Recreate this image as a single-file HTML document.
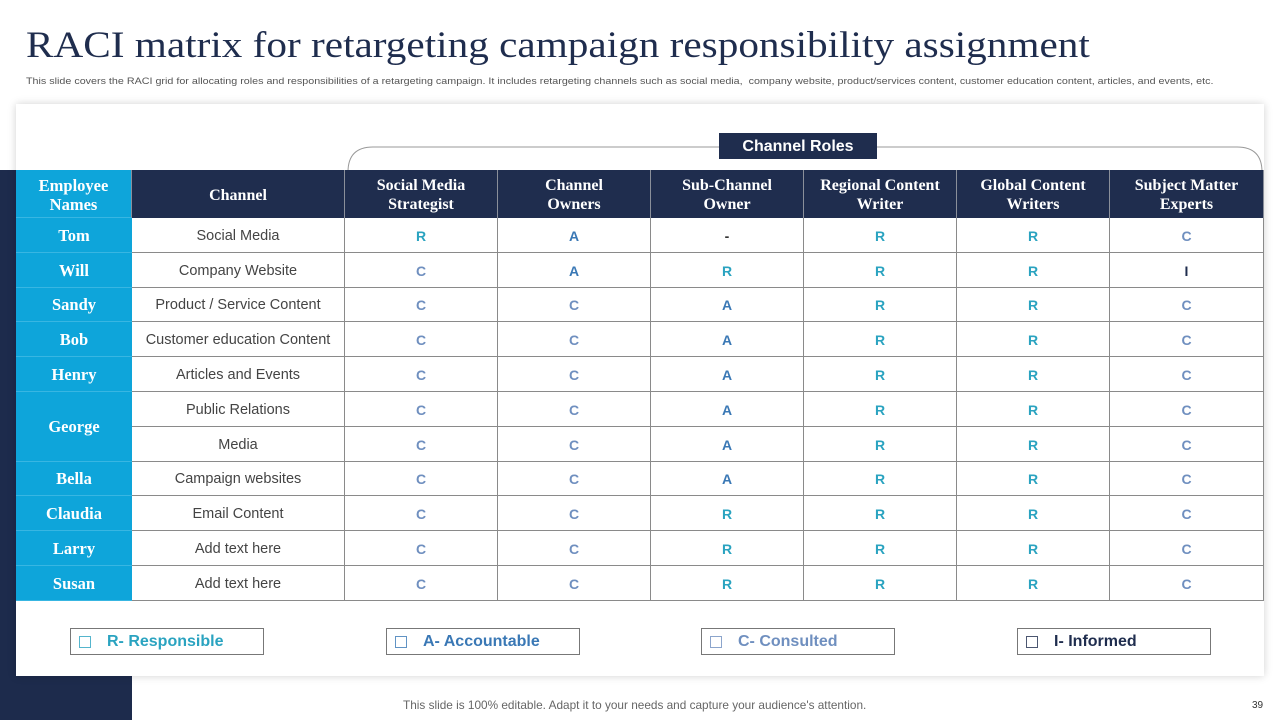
<!DOCTYPE html>
<html><head><meta charset="utf-8">
<style>
*{box-sizing:border-box;margin:0;padding:0}
body{width:1280px;height:720px;position:relative;background:#fff;font-family:"Liberation Sans",sans-serif;overflow:hidden}
.abs{position:absolute}
#title{left:26px;top:24px;font-family:"Liberation Serif",serif;font-size:37px;color:#1f2d4e;white-space:nowrap;transform:scaleX(1.114);transform-origin:0 0}
#sub{left:26px;top:76px;font-size:9.5px;color:#555;white-space:nowrap;transform:scaleX(1.13);transform-origin:0 0}
#navbar{left:0;top:170px;width:132px;height:550px;background:#1d2b4c}
#card{left:16px;top:104px;width:1248px;height:572px;background:#fff;box-shadow:0 0 8px rgba(0,0,0,0.18)}
.cell{position:absolute;display:flex;align-items:center;justify-content:center;text-align:center;padding-top:2px}
.hd{background:#1f2d4e;color:#fff;font-family:"Liberation Serif",serif;font-weight:bold;font-size:16px;line-height:19px;border-right:1px solid #8a8f9a}
.nm{background:#0ea5da;color:#fff;font-family:"Liberation Serif",serif;font-weight:bold;font-size:16.5px;border-bottom:1px solid #38b6e2}
.bd{border-right:1px solid #8a8a8a;border-bottom:1px solid #8a8a8a;font-size:14.5px;color:#444;background:#fff}
.v{font-weight:bold;font-size:14px}
.leg{position:absolute;top:628px;width:194px;height:27px;border:1px solid #777;font-weight:bold;font-size:16px;display:flex;align-items:center;padding-left:8px;background:#fff}
.leg span.box{display:inline-block;width:12px;height:12px;border:1.5px solid currentColor;margin-right:16px;opacity:.8}
</style></head><body>
<div id="title" class="abs">RACI matrix for retargeting campaign responsibility assignment</div>
<div id="sub" class="abs">This slide covers the RACI grid for allocating roles and responsibilities of a retargeting campaign. It includes retargeting channels such as social media,&nbsp; company website, product/services content, customer education content, articles, and events, etc.</div>
<div id="navbar" class="abs"></div>
<div id="card" class="abs"></div>
<svg class="abs" style="left:0;top:0" width="1280" height="720">
<path d="M348 172 L348 172 Q348 147 373 147 L1237 147 Q1262 147 1262 172" fill="none" stroke="#999" stroke-width="1"/>
</svg>
<div class="cell abs" style="left:719px;top:133px;width:158px;height:26px;background:#1f2d4e;color:#fff;font-weight:bold;font-size:16px">Channel Roles</div>
<div id="tbl"></div>
<div class="leg" style="left:70px;color:#2aa3c0"><span class="box"></span>R- Responsible</div>
<div class="leg" style="left:386px;color:#3a78b5"><span class="box"></span>A- Accountable</div>
<div class="leg" style="left:701px;color:#6f8fbf"><span class="box"></span>C- Consulted</div>
<div class="leg" style="left:1017px;color:#1f2d4e"><span class="box"></span>I- Informed</div>
<div class="abs" style="left:403px;top:698px;font-size:11.8px;color:#666">This slide is 100% editable. Adapt it to your needs and capture your audience's attention.</div>
<div class="abs" style="left:1252px;top:700px;font-size:10px;color:#333">39</div>
<script>
const roles=["Social Media Strategist","Channel Owners","Sub-Channel Owner","Regional Content Writer","Global Content Writers","Subject Matter Experts"];
const roleLines=[["Social Media","Strategist"],["Channel","Owners"],["Sub-Channel","Owner"],["Regional Content","Writer"],["Global Content","Writers"],["Subject Matter","Experts"]];
const channels=["Social Media","Company Website","Product / Service Content","Customer education Content","Articles and Events","Public Relations","Media","Campaign websites","Email Content","Add text here","Add text here"];
const names=[["Tom",1],["Will",1],["Sandy",1],["Bob",1],["Henry",1],["George",2],["Bella",1],["Claudia",1],["Larry",1],["Susan",1]];
const values=[
["R","A","-","R","R","C"],
["C","A","R","R","R","I"],
["C","C","A","R","R","C"],
["C","C","A","R","R","C"],
["C","C","A","R","R","C"],
["C","C","A","R","R","C"],
["C","C","A","R","R","C"],
["C","C","A","R","R","C"],
["C","C","R","R","R","C"],
["C","C","R","R","R","C"],
["C","C","R","R","R","C"]];
const colors={R:"#2aa3c0",A:"#3a78b5",C:"#6f8fbf",I:"#1f2d4e","-":"#333"};
const colX=[16,132,345,498,651,804,957,1110,1264];
const top0=170,headH=48,rowH=34.8;
const T=document.getElementById('tbl');
function mk(cls,x,y,w,h,html){const d=document.createElement('div');d.className='cell '+cls;d.style.left=x+'px';d.style.top=y+'px';d.style.width=w+'px';d.style.height=h+'px';d.innerHTML=html;T.appendChild(d);return d;}
let e=mk('hd nm',colX[0],top0,colX[1]-colX[0],headH,'Employee<br>Names');


e=mk('hd',colX[1],top0,colX[2]-colX[1],headH,'Channel');


roleLines.forEach((r,i)=>{const c=mk('hd',colX[i+2],top0,colX[i+3]-colX[i+2],headH,r.join('<br>'));

});
let ri=0;
names.forEach(([n,span])=>{const y=top0+headH+ri*rowH;const c=mk('nm',colX[0],y,colX[1]-colX[0],rowH*span,n);

ri+=span;});
channels.forEach((ch,r)=>{const y=top0+headH+r*rowH;
const c=mk('bd',colX[1],y,colX[2]-colX[1],rowH,ch);


values[r].forEach((v,k)=>{const d=mk('bd v',colX[k+2],y,colX[k+3]-colX[k+2],rowH,v);d.style.color=colors[v];

});});
</script>
</body></html>
